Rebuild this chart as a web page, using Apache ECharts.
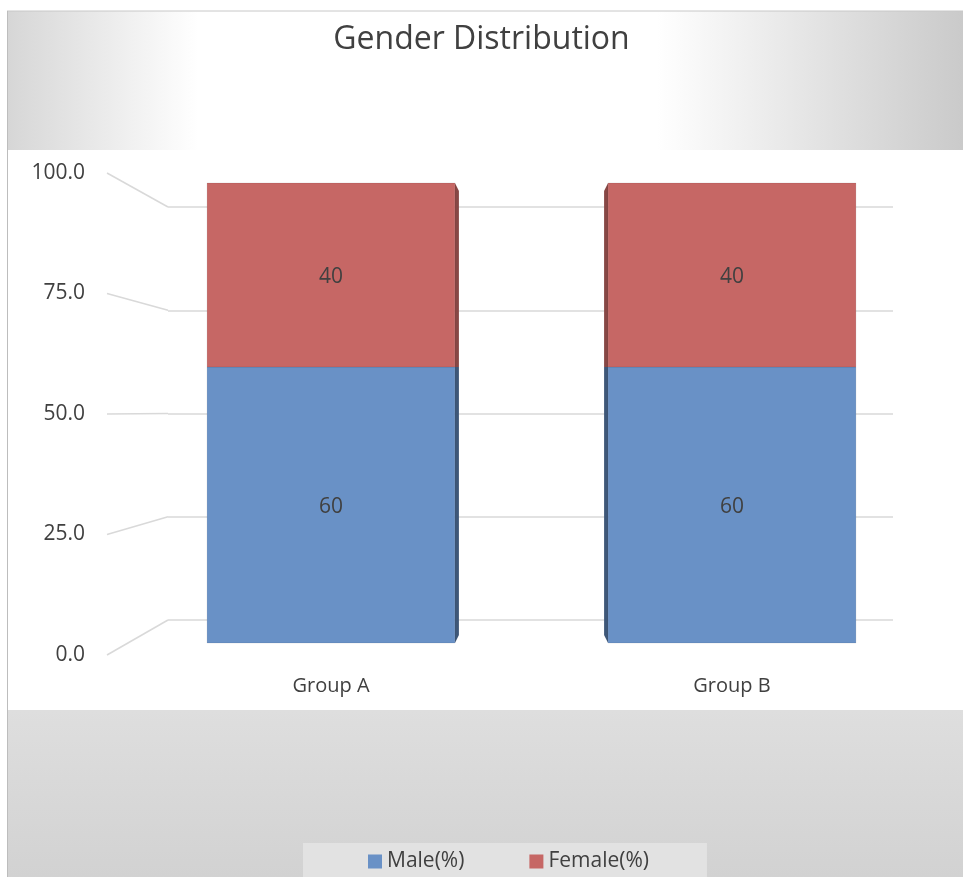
<!DOCTYPE html>
<html>
<head>
    <meta charset="utf-8">
    <title>Gender Distribution</title>
    <script src="https://cdn.jsdelivr.net/npm/echarts@6/dist/echarts.min.js"></script>
</head>
<style>
    *{
        padding: 0;
        margin: 0;
    }
    #main {
        width: 963px;
        height: 877px;
        position: absolute
    }
</style>
<body>
    <div id="main"></div>
    <script type="text/javascript">
    // chart data
    var categories = ['Group A', 'Group B'];
    var maleValues = [60, 60];
    var femaleValues = [40, 40];
    var yTicks = [0, 25, 50, 75, 100];

    var FONT = '"Open Sans", "Noto Sans", sans-serif';
    var TXT = '#404040';
    var BLUE = '#6991c6', BLUE_SIDE = '#3e5778';
    var RED = '#c66765', RED_SIDE = '#874745';

    // front face of the column + a thin dark side (right side for A, left for B)
    function renderBar(params, api) {
        var i = api.value(0);
        var lo = api.coord([i, api.value(1)]);
        var hi = api.coord([i, api.value(2)]);
        var w = api.size([1, 0])[0] * 0.618;
        var xl = lo[0] - w / 2, xr = lo[0] + w / 2;
        var isTop = params.seriesIndex === 1;
        var isBottom = params.seriesIndex === 0;
        var yT = hi[1], yB = lo[1];
        var sideColor = isTop ? RED_SIDE : BLUE_SIDE;
        var face = isTop ? RED : BLUE;
        var sx = i === 0 ? xr : xl;
        var dx = i === 0 ? 4 : -4;
        var side = [
            [sx, yT], [sx + dx, yT + (isTop ? 8 : 0)],
            [sx + dx, yB - (isBottom ? 8 : 0)], [sx, yB]
        ];
        return {
            type: 'group',
            children: [
                { type: 'polygon', shape: { points: side }, style: { fill: sideColor } },
                { type: 'rect', shape: { x: xl, y: yT, width: w, height: yB - yT },
                  style: { fill: face, stroke: 'rgba(0,0,0,0.08)', lineWidth: 1 } },
                { type: 'text', style: {
                    text: String(api.value(2) - api.value(1)),
                    x: lo[0], y: (yT + yB) / 2 + 2,
                    align: 'center', verticalAlign: 'middle',
                    font: '21px ' + FONT, fill: TXT
                } }
            ]
        };
    }

    var myChart = echarts.init(document.getElementById('main'));
    var option = {
        backgroundColor: '#ffffff',
        animation: false,
        title: {
            text: 'Gender Distribution',
            left: 'center',
            top: 19,
            textStyle: { fontFamily: FONT, fontSize: 32, fontWeight: 'normal', color: TXT }
        },
        legend: {
            data: ['Male(%)', 'Female(%)'],
            left: 303,
            top: 843,
            padding: [8, 58, 10, 65],
            backgroundColor: '#e2e2e2',
            icon: 'rect',
            itemWidth: 14,
            itemHeight: 14,
            itemGap: 65,
            textStyle: { fontFamily: FONT, fontSize: 21, color: TXT }
        },
        graphic: [
            { id: 'topBand', type: 'rect', z: -10, silent: true,
              shape: { x: 7, y: 11, width: 956, height: 139 },
              style: { fill: new echarts.graphic.LinearGradient(0, 0, 1, 0, [
                  { offset: 0, color: '#d6d6d6' }, { offset: 0.2, color: '#ffffff' },
                  { offset: 0.68, color: '#ffffff' }, { offset: 1, color: '#cacaca' }]) } },
            { id: 'bottomBand', type: 'rect', z: -10, silent: true,
              shape: { x: 7, y: 710, width: 956, height: 167 },
              style: { fill: new echarts.graphic.LinearGradient(0, 0, 0, 1, [
                  { offset: 0, color: '#dedede' }, { offset: 1, color: '#d2d2d2' }]) } },
            { id: 'topLine', type: 'line', z: -5, silent: true,
              shape: { x1: 7, y1: 11, x2: 963, y2: 11 }, style: { stroke: '#c8c8c8', lineWidth: 1 } },
            { id: 'leftLine', type: 'line', z: -5, silent: true,
              shape: { x1: 7.5, y1: 11, x2: 7.5, y2: 877 }, style: { stroke: '#bdbdbd', lineWidth: 1 } }
        ],
        grid: [
            { left: 130.5, right: 30.5, top: 183, bottom: 234 },   // columns
            { left: 168, right: 70, top: 207, bottom: 257 },       // back wall
            { left: 107, right: 800, top: 173, bottom: 222 }       // value labels
        ],
        xAxis: [
            { type: 'category', gridIndex: 0, data: categories,
              axisLine: { show: false }, axisTick: { show: false },
              axisLabel: { margin: 33, fontFamily: FONT, fontSize: 20, color: TXT } },
            { type: 'value', gridIndex: 1, min: 0, max: 1, show: false },
            { type: 'value', gridIndex: 2, min: 0, max: 1, show: false }
        ],
        yAxis: [
            { type: 'value', gridIndex: 0, min: 0, max: 100, show: false },
            { type: 'value', gridIndex: 1, min: 0, max: 100, interval: 25,
              axisLine: { show: false }, axisTick: { show: false }, axisLabel: { show: false },
              splitLine: { lineStyle: { color: '#d9d9d9', width: 1.5 } } },
            { type: 'value', gridIndex: 2, min: 0, max: 100, interval: 25,
              axisLine: { show: false }, axisTick: { show: false }, splitLine: { show: false },
              axisLabel: { margin: 22, fontFamily: FONT, fontSize: 21, color: TXT,
                           formatter: function (v) { return v.toFixed(1); } } }
        ],
        series: [
            { name: 'Male(%)', type: 'custom', xAxisIndex: 0, yAxisIndex: 0,
              itemStyle: { color: BLUE }, renderItem: renderBar,
              encode: { x: 0, y: [1, 2] },
              data: categories.map(function (c, i) { return [i, 0, maleValues[i]]; }) },
            { name: 'Female(%)', type: 'custom', xAxisIndex: 0, yAxisIndex: 0,
              itemStyle: { color: RED }, renderItem: renderBar,
              encode: { x: 0, y: [1, 2] },
              data: categories.map(function (c, i) {
                  return [i, maleValues[i], maleValues[i] + femaleValues[i]];
              }) }
        ]
    };
    myChart.setOption(option);

    // slanted connectors from each value label to the back wall gridline
    var connectors = yTicks.map(function (v, k) {
        var a = myChart.convertToPixel({ gridIndex: 2 }, [0, v]);
        var b = myChart.convertToPixel({ gridIndex: 1 }, [0, v]);
        return { id: 'conn' + k, type: 'line', silent: true, z: 0,
                 shape: { x1: a[0], y1: a[1], x2: b[0], y2: b[1] },
                 style: { stroke: '#d9d9d9', lineWidth: 1.5 } };
    });
    myChart.setOption({ graphic: connectors });
    </script>
</body>
</html>
